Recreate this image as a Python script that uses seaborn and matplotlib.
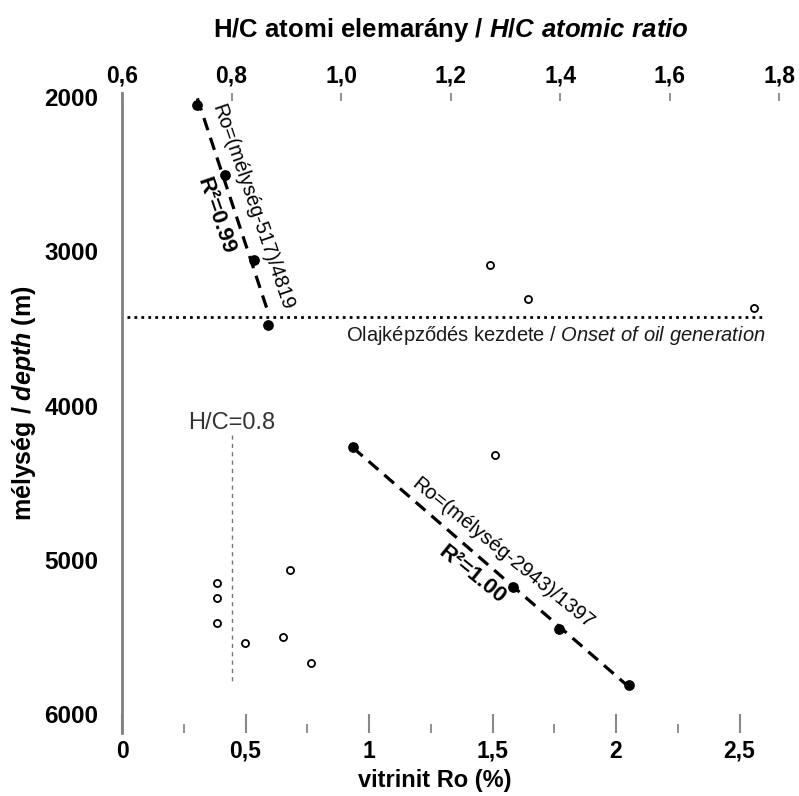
import numpy as np
import matplotlib
matplotlib.use("Agg")
import matplotlib.pyplot as plt
import seaborn as sns
from matplotlib import font_manager

# vitrinite reflectance trends (filled points)
ro_upper = [0.305, 0.418, 0.536, 0.593]
depth_upper = [2055, 2508, 3058, 3479]
ro_lower = [0.935, 1.582, 1.771, 2.054]
depth_lower = [4267, 5173, 5449, 5809]

# H/C atomic ratio (open points)
hc_values = [1.272, 1.342, 1.754, 1.281, 0.774, 0.774, 0.774, 0.825, 0.894, 0.907, 0.945]
hc_depth = [3091, 3313, 3371, 4320, 5151, 5248, 5410, 5539, 5496, 5065, 5669]

ro_ticks = [0, 0.5, 1, 1.5, 2, 2.5]
ro_ticklabels = ['0', '0,5', '1', '1,5', '2', '2,5']
hc_ticks = [0.6, 0.8, 1.0, 1.2, 1.4, 1.6, 1.8]
hc_ticklabels = ['0,6', '0,8', '1,0', '1,2', '1,4', '1,6', '1,8']
depth_ticks = [2000, 3000, 4000, 5000, 6000]
oil_onset_depth = 3427

sns.set_style("white")
names = {f.name for f in font_manager.fontManager.ttflist}
narrow = 'Liberation Sans Narrow' if 'Liberation Sans Narrow' in names else 'Liberation Sans'
plt.rcParams['font.family'] = [narrow, 'DejaVu Sans']
plt.rcParams['text.color'] = 'black'
plt.rcParams['axes.labelcolor'] = 'black'
plt.rcParams['mathtext.fontset'] = 'custom'
plt.rcParams['mathtext.it'] = narrow + ':italic:bold'
plt.rcParams['mathtext.sf'] = 'Liberation Sans:italic'
plt.rcParams['mathtext.rm'] = narrow + ':bold'

fig = plt.figure(figsize=(7.99, 7.96), dpi=100)
ax = fig.add_axes([0.1527, 0.0791, 0.8223, 0.8040])

for ro, depth in ((ro_upper, depth_upper), (ro_lower, depth_lower)):
    sns.regplot(x=np.array(ro), y=np.array(depth), ci=None, truncate=True, ax=ax,
                scatter_kws=dict(s=45, color='black', alpha=1, zorder=4),
                line_kws=dict(color='black', lw=2.3, dashes=(4, 2.5)))

ax.set_xlim(0, 2.66)
ax.set_ylim(6120, 1977)

ax2 = ax.twiny()
sns.scatterplot(x=hc_values, y=hc_depth, ax=ax2, s=26, marker='o',
                facecolor='white', edgecolor='black', linewidth=1.3, zorder=5)
ax2.set_xlim(0.6, 1.8)

# onset of oil generation
ax.plot([0.02, 2.605], [oil_onset_depth, oil_onset_depth], color='black', lw=2,
        ls=(0, (1, 1.5)), zorder=3)
ax.text(2.605, oil_onset_depth + 45, 'Olajképződés kezdete / $\\mathsf{Onset\\ of\\ oil\\ generation}$',
        ha='right', va='top', fontsize=14.5, family='Liberation Sans', color='#1a1a1a')

# H/C = 0.8 marker line
ax2.plot([0.8, 0.8], [4191, 5809], color='#777777', lw=1, ls=(0, (3, 3)))
ax2.text(0.8, 4110, 'H/C=0.8', ha='center', va='center', fontsize=17,
         family='Liberation Sans', color='#333333')

# regression equations
ax.text(0.528, 2715, 'Ro=(mélység-517)/4819', rotation=-71, rotation_mode='anchor',
        ha='center', va='center', fontsize=14.5, family='Liberation Sans')
ax.text(0.381, 2773, 'R²=0.99', rotation=-71, rotation_mode='anchor',
        ha='center', va='center', fontsize=16, fontweight='bold', family='Liberation Sans')
ax.text(1.542, 4955, 'Ro=(mélység-2943)/1397', rotation=-39, rotation_mode='anchor',
        ha='center', va='center', fontsize=14.5, family='Liberation Sans')
ax.text(1.416, 5097, 'R²=1.00', rotation=-39, rotation_mode='anchor',
        ha='center', va='center', fontsize=16, fontweight='bold', family='Liberation Sans')

# axes styling
for a in (ax, ax2):
    for s in a.spines.values():
        s.set_visible(False)
ax.spines['left'].set_visible(True)
ax.spines['left'].set_color('#808080')
ax.spines['left'].set_linewidth(2)

ax.set_xticks(ro_ticks)
ax.set_xticklabels(ro_ticklabels, fontweight='bold', fontsize=16.5)
ax.set_xticks(np.arange(0.25, 2.5, 0.5), minor=True)
ax.tick_params(axis='x', which='major', direction='in', length=14, width=1.5, color='#888888',
               labelcolor='black', pad=5)
ax.tick_params(axis='x', which='minor', direction='in', length=6.5, width=1.3, color='#888888')

ax.set_yticks(depth_ticks)
ax.set_yticklabels([str(d) for d in depth_ticks], fontweight='bold', fontsize=17.5)
ax.set_yticks([2500, 4500, 5500], minor=True)
ax.tick_params(axis='y', which='major', direction='out', length=13, width=1.3, color='black',
               labelcolor='black', pad=4)
ax.tick_params(axis='y', which='minor', direction='in', length=6, width=1.3, color='#777777')
for t in (ax.yaxis.get_major_ticks()[0], ax.yaxis.get_major_ticks()[-1]):
    t.tick1line.set_visible(False)

ax2.set_xticks(hc_ticks)
ax2.set_xticklabels(hc_ticklabels, fontweight='bold', fontsize=16.5)
ax2.tick_params(axis='x', which='major', direction='in', length=6, width=1.3, color='#888888',
                labelcolor='black', pad=4)

ax.set_xlabel('vitrinit Ro (%)', fontweight='bold', fontsize=17)
ax.xaxis.set_label_coords(0.476, -0.056)
ax.set_ylabel('mélység / $depth$ (m)', fontweight='bold', fontsize=18)
ax.yaxis.set_label_coords(-0.128, 0.516)
ax2.set_xlabel('H/C atomi elemarány / $H/C\\ atomic\\ ratio$', fontweight='bold', fontsize=18.5, labelpad=20)

fig.savefig('out.png', dpi=100)
